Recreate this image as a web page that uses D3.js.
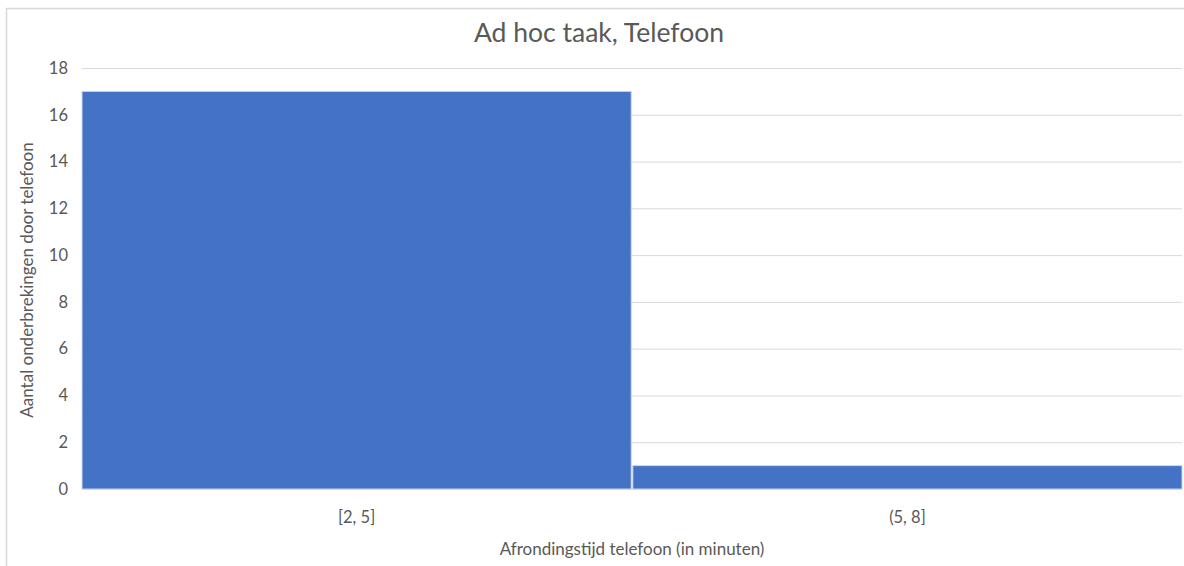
<!DOCTYPE html>
<html>
<head>
<meta charset="utf-8">
<script src="https://cdn.jsdelivr.net/npm/d3@7"></script>
<style>
  html, body { margin: 0; padding: 0; background: #fff; }
  svg { display: block; }
  text { font-family: Lato, "Open Sans", sans-serif; fill: #595959; }
</style>
</head>
<body>
<svg id="chart" width="1184" height="566"></svg>
<script>
// Histogram bins and counts
const categories = ["[2, 5]", "(5, 8]"];
const counts = [17, 1];
const yTicks = [0, 2, 4, 6, 8, 10, 12, 14, 16, 18];

const chartTitle = "Ad hoc taak, Telefoon";
const xTitle = "Afrondingstijd telefoon (in minuten)";
const yTitle = "Aantal onderbrekingen door telefoon";

const W = 1184, H = 566;
const margin = { top: 68, right: 2, bottom: 77, left: 82 };

const svg = d3.select("#chart");

// chart frame (top and left edges visible)
svg.append("line").attr("x1", 6).attr("x2", W).attr("y1", 8.5).attr("y2", 8.5)
  .attr("stroke", "#d9d9d9").attr("stroke-width", 1.5);
svg.append("line").attr("x1", 6.5).attr("x2", 6.5).attr("y1", 8).attr("y2", H)
  .attr("stroke", "#d9d9d9").attr("stroke-width", 1.5);

const x = d3.scaleBand()
  .domain(categories)
  .range([margin.left, W - margin.right])
  .paddingInner(0.003)
  .paddingOuter(0);

const y = d3.scaleLinear()
  .domain([0, 18])
  .range([H - margin.bottom, margin.top]);

// horizontal gridlines
const yAxis = d3.axisLeft(y).tickValues(yTicks).tickSize(-(W - margin.right - margin.left)).tickPadding(14);
const gy = svg.append("g")
  .attr("transform", `translate(${margin.left},0)`)
  .call(yAxis);
gy.select(".domain").remove();
gy.selectAll(".tick line").attr("stroke", "#d9d9d9").attr("stroke-width", 1);
gy.selectAll(".tick text")
  .style("font-size", "16.5px")
  .style("font-family", "Lato, 'Open Sans', sans-serif")
  .attr("fill", "#595959");

// bars
svg.append("g").selectAll("rect")
  .data(categories.map((c, i) => ({ c, v: counts[i] })))
  .join("rect")
  .attr("x", d => x(d.c))
  .attr("width", x.bandwidth())
  .attr("y", d => y(d.v))
  .attr("height", d => y(0) - y(d.v))
  .attr("fill", "#4472c4")
  .attr("stroke", "#c9d5ee")
  .attr("stroke-width", 1);

// x axis baseline and labels
svg.append("line")
  .attr("x1", margin.left).attr("x2", W - margin.right)
  .attr("y1", y(0) + 0.5).attr("y2", y(0) + 0.5)
  .attr("stroke", "#d9d9d9");

const xAxis = d3.axisBottom(x).tickSize(0).tickPadding(22);
const gx = svg.append("g")
  .attr("transform", `translate(0,${y(0)})`)
  .call(xAxis);
gx.select(".domain").remove();
gx.selectAll(".tick text")
  .style("font-size", "16.5px")
  .style("font-family", "Lato, 'Open Sans', sans-serif")
  .attr("fill", "#595959");

// titles
svg.append("text")
  .attr("x", 599).attr("y", 42)
  .attr("text-anchor", "middle")
  .style("font-size", "26.5px")
  .text(chartTitle);

svg.append("text")
  .attr("x", 632).attr("y", 555)
  .attr("text-anchor", "middle")
  .style("font-size", "17px")
  .text(xTitle);

svg.append("text")
  .attr("transform", "translate(33,280) rotate(-90)")
  .attr("text-anchor", "middle")
  .style("font-size", "17px")
  .text(yTitle);
</script>
</body>
</html>
